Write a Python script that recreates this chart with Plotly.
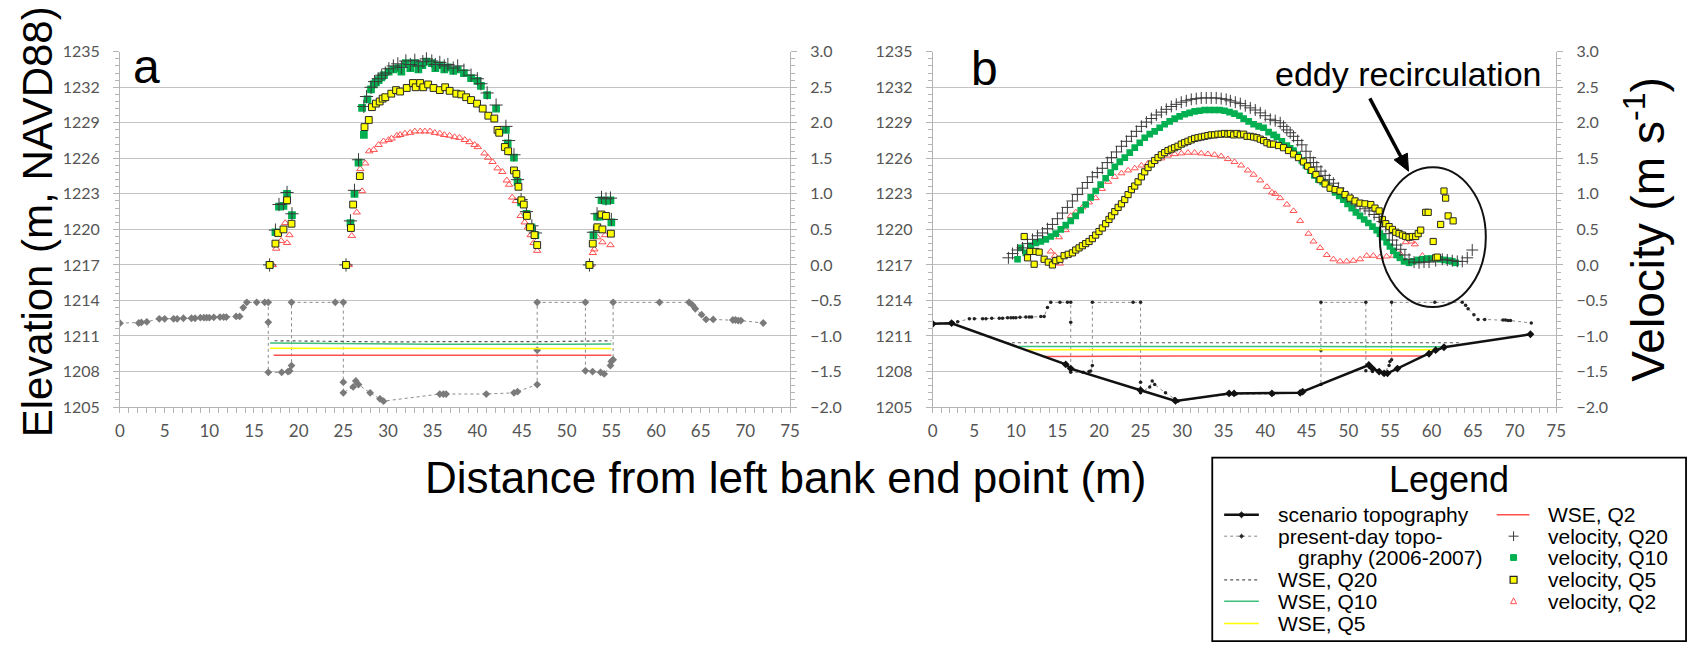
import math
import plotly.graph_objects as go

# ---------------------------------------------------------------------------
# Cross-section data
# ---------------------------------------------------------------------------
# Present-day topography (2006-2007 survey), distance (m) / elevation (m)
pd_x = [0, 2.1, 2.4, 3.0, 4.4, 5.0, 6.0, 6.4, 7.1, 8.0, 8.4, 9.0, 9.4, 9.7, 10.0,
        10.5, 11.2, 11.6, 11.9, 13.0, 13.4, 13.8, 14.2, 15.3, 16.2, 16.6, 16.6,
        16.6, 18.1, 18.8, 19.0, 19.2, 19.2, 24.1, 25.0, 25.0, 25.0, 26.1, 26.4,
        26.7, 28.0, 29.1, 29.5, 35.8, 36.2, 36.5, 41.0, 44.1, 44.5, 46.7, 46.7,
        46.7, 52.1, 52.1, 52.9, 53.8, 54.2, 54.9, 55.0, 55.2, 55.2, 60.4, 63.7,
        64.1, 64.4, 65.1, 65.6, 66.4, 68.6, 68.9, 69.2, 69.5, 72.0]
pd_z = [1212.08, 1212.1, 1212.15, 1212.2, 1212.45, 1212.45, 1212.45, 1212.45,
        1212.5, 1212.5, 1212.5, 1212.55, 1212.55, 1212.55, 1212.55, 1212.58,
        1212.6, 1212.6, 1212.6, 1212.65, 1212.65, 1213.4, 1213.84, 1213.84,
        1213.84, 1213.84, 1212.16, 1207.93, 1207.93, 1208.0, 1208.05, 1208.5,
        1213.84, 1213.84, 1213.84, 1207.1, 1206.2, 1206.7, 1207.2, 1206.9,
        1206.2, 1205.7, 1205.5, 1206.1, 1206.1, 1206.1, 1206.1, 1206.2, 1206.3,
        1206.9, 1209.8, 1213.84, 1213.84, 1208.06, 1208.0, 1207.93, 1207.8,
        1208.5, 1208.85, 1209.0, 1213.84, 1213.84, 1213.84, 1213.6, 1213.3,
        1212.8, 1212.4, 1212.4, 1212.35, 1212.35, 1212.3, 1212.3, 1212.1]

# Scenario topography (panel b)
sc_x = [0, 2.27, 16.0, 16.6, 25.0, 29.2, 35.65, 36.25, 40.8, 44.2, 44.5, 52.46,
        52.9, 53.7, 54.3, 54.7, 55.9, 59.7, 60.5, 61.5, 71.9]
sc_z = [1212.03, 1212.08, 1208.6, 1208.25, 1206.42, 1205.52, 1206.15, 1206.15,
        1206.15, 1206.2, 1206.3, 1208.55, 1208.25, 1208.0, 1207.85, 1207.85,
        1208.25, 1209.5, 1209.8, 1210.05, 1211.15]

# Water surface elevations, panel a
wse_a_q20_x = [17.3, 20, 25, 30, 35, 40, 45, 50, 55.0]
wse_a_q20_z = [1210.6, 1210.58, 1210.52, 1210.5, 1210.52, 1210.55, 1210.52, 1210.54, 1210.6]
wse_a_q10_x = [16.8, 20, 25, 30, 35, 40, 45, 50, 55.0]
wse_a_q10_z = [1210.4, 1210.38, 1210.32, 1210.3, 1210.3, 1210.3, 1210.28, 1210.3, 1210.32]
wse_a_q5_x = [16.8, 25, 35, 45, 55.0]
wse_a_q5_z = [1209.97, 1209.95, 1209.94, 1209.94, 1209.95]
wse_a_q2_x = [17.2, 25, 35, 45, 55.0]
wse_a_q2_z = [1209.37, 1209.35, 1209.37, 1209.37, 1209.37]

# Water surface elevations, panel b
wse_b_q20_x = [8.8, 20, 23.2, 30, 40, 50, 60, 63.5]
wse_b_q20_z = [1210.43, 1210.43, 1210.38, 1210.4, 1210.42, 1210.42, 1210.42, 1210.43]
wse_b_q10_x = [10.1, 20, 30, 40, 50, 60, 62.0]
wse_b_q10_z = [1210.11, 1210.11, 1210.1, 1210.1, 1210.1, 1210.12, 1210.1]
wse_b_q5_x = [11.1, 20, 30, 40, 50, 60.7]
wse_b_q5_z = [1209.84, 1209.84, 1209.84, 1209.84, 1209.84, 1209.84]
wse_b_q2_x = [13.2, 15.5, 16.0, 30, 45, 59.2]
wse_b_q2_z = [1209.26, 1209.27, 1209.32, 1209.32, 1209.32, 1209.32]

# Depth-averaged velocities, panel a (m/s)
va_q20_x = [16.75, 17.4, 17.8, 18.3, 18.7, 19.25, 25.3, 25.8, 26.25, 26.7, 27.3, 27.6,
            28.1, 28.5, 28.9, 29.3, 29.7, 30.1, 30.6, 31.1, 31.5, 32.0, 32.5, 33.0,
            33.4, 33.9, 34.3, 34.9, 35.3, 35.8, 36.3, 36.7, 37.3, 37.8, 38.5, 39.3,
            40.0, 40.4, 41.1, 42.1, 43.2, 43.5, 44.1, 44.5, 44.9, 45.5, 46.1, 46.5,
            52.55, 53.0, 53.4, 53.9, 54.4, 54.9, 55.0]
va_q20_v = [0.0, 0.49, 0.85, 0.86, 1.02, 0.72, 0.0, 0.62, 1.05, 1.48, 2.23, 2.37, 2.5,
            2.58, 2.62, 2.67, 2.7, 2.76, 2.8, 2.83, 2.78, 2.87, 2.82, 2.88, 2.8, 2.86,
            2.9, 2.87, 2.82, 2.85, 2.8, 2.82, 2.77, 2.8, 2.74, 2.67, 2.62, 2.55, 2.42,
            2.25, 1.95, 1.75, 1.55, 1.2, 0.92, 0.75, 0.55, 0.45, 0.0, 0.46, 0.72, 0.95,
            0.93, 0.94, 0.64]
va_q10_x = [16.75, 17.4, 17.8, 18.3, 18.7, 19.25, 25.3, 25.8, 26.25, 26.7, 27.3, 27.1,
            27.7, 28.1, 28.4, 28.65, 28.95, 29.25, 29.55, 30.07, 30.6, 31.15, 31.5,
            32.0, 32.5, 32.95, 33.4, 33.85, 34.3, 34.9, 35.3, 35.8, 36.3, 36.7, 37.3,
            37.8, 38.5, 39.3, 40.0, 40.4, 41.1, 42.1, 43.2, 43.4, 44.1, 44.5, 44.9,
            45.5, 46.07, 46.5, 52.55, 53.0, 53.4, 53.7, 53.9, 54.4, 54.9, 55.0]
va_q10_v = [0.0, 0.46, 0.82, 0.83, 1.0, 0.70, 0.0, 0.59, 1.0, 1.44, 1.83, 2.21, 2.33,
            2.47, 2.54, 2.57, 2.6, 2.64, 2.67, 2.72, 2.75, 2.77, 2.72, 2.84, 2.77,
            2.84, 2.75, 2.81, 2.86, 2.84, 2.77, 2.81, 2.75, 2.78, 2.73, 2.75, 2.7,
            2.63, 2.59, 2.52, 2.39, 2.2, 1.9, 1.71, 1.51, 1.17, 0.88, 0.72, 0.53,
            0.42, 0.0, 0.42, 0.68, 0.68, 0.91, 0.9, 0.91, 0.6]
va_q5_x = [16.75, 17.4, 17.7, 18.3, 18.7, 19.2, 25.3, 25.85, 26.1, 26.85, 27.37,
           27.85, 28.2, 28.65, 29.07, 29.4, 29.7, 30.37, 30.9, 31.36, 32.1, 32.8,
           33.1, 33.6, 33.95, 34.5, 35.1, 35.8, 36.4, 36.9, 37.65, 38.2, 38.75, 39.3,
           39.97, 40.6, 41.23, 41.9, 42.26, 42.45, 43.08, 43.45, 44.1, 44.37, 44.6,
           44.93, 45.2, 45.55, 45.9, 46.4, 46.7, 52.55, 52.92, 53.43, 53.9, 54.0,
           54.4, 54.95]
va_q5_v = [0.0, 0.30, 0.45, 0.5, 0.91, 0.58, 0.0, 0.52, 0.85, 1.25, 1.94, 2.04, 2.22,
           2.27, 2.30, 2.34, 2.36, 2.41, 2.46, 2.44, 2.49, 2.56, 2.5, 2.56, 2.5, 2.54,
           2.49, 2.46, 2.5, 2.45, 2.41, 2.4, 2.36, 2.32, 2.27, 2.2, 2.1, 2.06, 1.9,
           1.86, 1.66, 1.6, 1.33, 1.28, 1.1, 0.91, 0.85, 0.69, 0.53, 0.42, 0.28, 0.0,
           0.3, 0.53, 0.71, 0.5, 0.69, 0.44]
va_q2_x = [17.1, 17.49, 18.04, 18.49, 18.7, 18.97, 25.6, 25.95, 26.5, 27.1, 26.9,
           27.45, 27.9, 28.4, 28.95, 29.5, 30.07, 30.4, 31.0, 31.36, 31.9, 32.47,
           33.0, 33.6, 34.13, 34.7, 35.24, 35.8, 36.3, 36.9, 37.45, 38.0, 38.6, 39.13,
           39.7, 40.05, 40.8, 41.2, 41.7, 42.26, 42.8, 43.3, 43.55, 43.9, 44.3, 44.85,
           45.3, 45.67, 45.97, 46.3, 46.7, 52.7, 52.92, 53.1, 53.43, 54.0, 54.3, 54.9]
va_q2_v = [0.0, 0.23, 0.34, 0.59, 0.31, 0.42, 0.0, 0.41, 0.74, 1.04, 1.35, 1.43, 1.6,
           1.62, 1.69, 1.74, 1.76, 1.78, 1.82, 1.83, 1.85, 1.86, 1.88, 1.88, 1.88,
           1.88, 1.86, 1.85, 1.83, 1.82, 1.8, 1.79, 1.76, 1.73, 1.69, 1.66, 1.57,
           1.51, 1.45, 1.36, 1.31, 1.19, 1.13, 0.95, 0.9, 0.69, 0.6, 0.53, 0.42, 0.31,
           0.2, 0.0, 0.17, 0.22, 0.39, 0.32, 0.42, 0.28]

# Depth-averaged velocities, panel b (m/s)
vb_q20_x = [9.1, 9.6, 10.2, 10.8, 11.4, 12.0, 12.6, 13.2, 13.8, 14.4, 15.0, 15.6,
            16.2, 16.8, 17.4, 18.0, 18.6, 19.2, 19.8, 20.4, 21.0, 21.5, 22.1, 22.7,
            23.3, 23.9, 24.5, 25.1, 25.7, 26.3, 26.9, 27.5, 28.1, 28.7, 29.3, 29.9,
            30.5, 31.1, 31.7, 32.3, 32.9, 33.5, 34.1, 34.7, 35.3, 35.8, 36.4, 37.0,
            37.6, 38.2, 38.8, 39.4, 40.0, 40.6, 41.2, 41.8, 42.2, 42.6, 43.0, 43.4,
            43.9, 44.4, 44.9, 45.4, 45.8, 46.2, 46.7, 47.2, 47.7, 48.2, 48.8, 49.4,
            49.9, 50.4, 50.9, 51.4, 52.0, 52.5, 53.1, 53.7, 54.1, 54.5, 54.9, 55.3,
            55.8, 56.3, 56.8, 57.3, 57.9, 58.5, 59.1, 59.7, 60.5, 61.3, 61.9, 62.5,
            63.1, 63.7, 64.3, 64.9]
vb_q20_v = [0.10, 0.16, 0.21, 0.24, 0.30, 0.36, 0.41, 0.45, 0.51, 0.57, 0.65, 0.73,
            0.81, 0.90, 0.99, 1.08, 1.16, 1.24, 1.30, 1.36, 1.44, 1.51, 1.59, 1.67,
            1.74, 1.81, 1.88, 1.95, 2.01, 2.06, 2.11, 2.15, 2.19, 2.23, 2.26, 2.29,
            2.31, 2.33, 2.34, 2.35, 2.35, 2.35, 2.35, 2.34, 2.33, 2.31, 2.29, 2.27,
            2.24, 2.21, 2.18, 2.14, 2.10, 2.05, 2.03, 2.0, 1.95, 1.9, 1.86, 1.81,
            1.75, 1.69, 1.60, 1.51, 1.44, 1.38, 1.32, 1.26, 1.20, 1.15, 1.08, 1.01,
            0.96, 0.92, 0.87, 0.83, 0.79, 0.76, 0.71, 0.67, 0.61, 0.54, 0.44, 0.35,
            0.28, 0.22, 0.14, 0.08, 0.04, 0.03, 0.04, 0.04, 0.06, 0.08, 0.07, 0.06,
            0.05, 0.05, 0.10, 0.21]
vb_q10_x = [10.2, 10.6, 11.2, 11.8, 12.4, 13.0, 13.6, 14.2, 14.8, 15.4, 16.0, 16.6,
            17.2, 17.8, 18.4, 19.0, 19.6, 20.2, 20.8, 21.4, 21.9, 22.5, 23.1, 23.7,
            24.3, 24.9, 25.5, 26.1, 26.7, 27.3, 27.9, 28.5, 29.1, 29.7, 30.3, 30.9,
            31.5, 32.1, 32.7, 33.3, 33.9, 34.5, 35.1, 35.7, 36.3, 36.9, 37.4, 38.0,
            38.6, 39.2, 39.8, 40.4, 41.0, 41.4, 42.0, 42.6, 43.0, 43.4, 43.9, 44.4,
            44.9, 45.4, 45.9, 46.4, 46.9, 47.4, 47.9, 48.4, 48.9, 49.4, 49.9, 50.4,
            50.9, 51.4, 51.9, 52.4, 52.9, 53.4, 53.8, 54.2, 54.6, 55.0, 55.4, 55.8,
            56.2, 56.7, 57.3, 57.8, 58.4, 58.9, 59.5, 60.0, 60.5, 61.0, 61.6, 62.1,
            62.5, 62.9]
vb_q10_v = [0.08, 0.24, 0.17, 0.27, 0.31, 0.33, 0.36, 0.40, 0.44, 0.50, 0.56, 0.62,
            0.69, 0.77, 0.85, 0.95, 1.04, 1.13, 1.22, 1.30, 1.38, 1.45, 1.51, 1.58,
            1.65, 1.72, 1.79, 1.84, 1.88, 1.93, 1.98, 2.02, 2.06, 2.09, 2.12, 2.14,
            2.16, 2.17, 2.18, 2.18, 2.18, 2.18, 2.17, 2.15, 2.13, 2.10, 2.06, 2.02,
            1.98, 1.95, 1.93, 1.87, 1.83, 1.80, 1.74, 1.68, 1.64, 1.61, 1.55, 1.47,
            1.40, 1.33, 1.26, 1.20, 1.17, 1.14, 1.08, 1.02, 0.97, 0.92, 0.86, 0.80,
            0.74, 0.69, 0.64, 0.59, 0.54, 0.49, 0.44, 0.39, 0.32, 0.26, 0.20, 0.14,
            0.10, 0.05, 0.03, 0.05, 0.07, 0.08, 0.09, 0.09, 0.10, 0.08, 0.07, 0.06,
            0.05, 0.03]
vb_q5_x = [11.0, 11.4, 11.7, 12.2, 12.4, 12.8, 13.4, 13.9, 14.4, 14.8, 15.3, 15.8,
           16.3, 16.8, 17.2, 17.6, 18.0, 18.4, 18.8, 19.2, 19.6, 20.0, 20.4, 20.8,
           21.2, 21.5, 21.9, 22.3, 22.7, 23.1, 23.5, 23.9, 24.3, 24.7, 25.1, 25.5,
           25.9, 26.3, 26.7, 27.1, 27.5, 27.9, 28.3, 28.7, 29.1, 29.5, 29.9, 30.3,
           30.7, 31.1, 31.5, 31.9, 32.3, 32.7, 33.1, 33.5, 33.9, 34.3, 34.7, 35.1,
           35.5, 35.8, 36.2, 36.6, 37.0, 37.4, 37.8, 38.2, 38.6, 39.0, 39.4, 39.8,
           40.2, 40.6, 41.0, 41.6, 42.2, 42.8, 43.4, 44.0, 44.6, 45.1, 45.6, 46.1,
           46.6, 47.2, 47.8, 48.4, 49.0, 49.6, 50.2, 50.8, 51.4, 52.0, 52.7, 53.2,
           53.7, 54.1, 54.5, 54.9, 55.3, 55.7, 56.1, 56.5, 56.9, 57.3, 57.7, 58.1,
           58.4, 58.7, 59.3, 59.6, 60.2, 60.5, 60.7, 61.1, 61.5, 61.7, 62.0, 62.6]
vb_q5_v = [0.40, 0.10, 0.19, 0.01, 0.19, 0.18, 0.08, 0.04, 0.0, 0.06, 0.08, 0.13,
           0.15, 0.17, 0.21, 0.24, 0.27, 0.30, 0.33, 0.37, 0.42, 0.47, 0.52, 0.58,
           0.64, 0.69, 0.75, 0.81, 0.86, 0.92, 0.99, 1.06, 1.11, 1.17, 1.24, 1.31,
           1.37, 1.42, 1.47, 1.51, 1.55, 1.58, 1.61, 1.63, 1.65, 1.67, 1.70, 1.72,
           1.74, 1.76, 1.78, 1.79, 1.80, 1.81, 1.82, 1.83, 1.83, 1.84, 1.84, 1.85,
           1.84, 1.85, 1.83, 1.85, 1.83, 1.84, 1.81, 1.81, 1.80, 1.79, 1.77, 1.75,
           1.72, 1.70, 1.70, 1.68, 1.65, 1.61, 1.56, 1.51, 1.45, 1.39, 1.33, 1.27,
           1.20, 1.14, 1.08, 1.06, 1.04, 0.99, 0.94, 0.90, 0.87, 0.86, 0.85, 0.80,
           0.76, 0.64, 0.58, 0.54, 0.50, 0.46, 0.44, 0.42, 0.40, 0.39, 0.40, 0.40,
           0.44, 0.49, 0.74, 0.74, 0.33, 0.10, 0.11, 0.57, 1.04, 0.94, 0.69, 0.62]
vb_q2_x = [13.4, 14.2, 14.7, 15.3, 15.2, 16.0, 16.6, 17.2, 18.0, 18.8, 19.6, 20.35,
           21.1, 21.9, 22.7, 23.5, 24.3, 25.1, 25.9, 26.7, 27.5, 28.3, 29.1, 29.9,
           30.7, 31.5, 32.3, 33.1, 33.9, 34.7, 35.5, 36.3, 37.1, 37.9, 38.6, 39.4,
           40.2, 40.8, 41.2, 41.8, 42.6, 43.4, 44.2, 45.2, 45.8, 46.6, 47.4, 48.2,
           49.0, 49.8, 50.6, 51.4, 52.2, 53.0, 53.8, 54.6, 55.4, 56.2, 56.9, 57.6,
           58.0, 58.9]
vb_q2_v = [0.08, 0.19, 0.13, 0.02, 0.39, 0.49, 0.69, 0.74, 0.81, 0.88, 0.94, 1.07,
           1.17, 1.24, 1.29, 1.33, 1.36, 1.40, 1.43, 1.46, 1.50, 1.54, 1.56, 1.57,
           1.58, 1.58, 1.57, 1.56, 1.55, 1.53, 1.49, 1.45, 1.40, 1.33, 1.27, 1.19,
           1.10, 1.02, 1.0, 0.94, 0.85, 0.76, 0.62, 0.44, 0.33, 0.24, 0.14, 0.08,
           0.05, 0.05, 0.06, 0.08, 0.13, 0.13, 0.11, 0.12, 0.13, 0.16, 0.32, 0.33,
           0.29, 0.13]

x_ticks = list(range(0, 80, 5))
elev_ticks = list(range(1205, 1236, 3))
vel_ticks = [-2.0, -1.5, -1.0, -0.5, 0.0, 0.5, 1.0, 1.5, 2.0, 2.5, 3.0]

# ---------------------------------------------------------------------------
# Styling
# ---------------------------------------------------------------------------
W, H = 1701, 651
SANS = "Liberation Sans, Arial, sans-serif"
TICKFONT = "Lato, Carlito, sans-serif"
GREEN = "#00b050"
YELLOW = "#ffff00"
RED = "#ff5050"
GRID = "#c3c3c3"
AXIS = "#b4b4b4"


def fx(p):
    return p / W


def fy(p):
    return 1 - p / H


fig = go.Figure()


def topo_present(xa, ya, mcolor, msize, mshape):
    fig.add_trace(go.Scatter(
        x=pd_x, y=pd_z, xaxis=xa, yaxis=ya, mode="lines+markers",
        line=dict(color="#8c8c8c", width=1, dash="dot"),
        marker=dict(symbol=mshape, size=msize, color=mcolor),
        name="present-day topography (2006-2007)", hoverinfo="skip"))


def wse(xs, zs, xa, ya, color, width, dash="solid", name=""):
    fig.add_trace(go.Scatter(
        x=xs, y=zs, xaxis=xa, yaxis=ya, mode="lines",
        line=dict(color=color, width=width, dash=dash), name=name))


def velocity(xs, vs, xa, ya, kind, scale=1.0):
    if kind == "q20":
        m = dict(symbol="cross-thin", size=9 * scale, line=dict(color="#3a3a3a", width=1))
        name = "velocity, Q20"
    elif kind == "q10":
        m = dict(symbol="square", size=7 * scale, color=GREEN, line=dict(width=0))
        name = "velocity, Q10"
    elif kind == "q5":
        m = dict(symbol="square", size=6.5 * scale, color=YELLOW,
                 line=dict(color="#262626", width=1))
        name = "velocity, Q5"
    else:
        m = dict(symbol="triangle-up-open", size=6.5 * scale, color=RED,
                 line=dict(color=RED, width=1))
        name = "velocity, Q2"
    fig.add_trace(go.Scatter(x=xs, y=vs, xaxis=xa, yaxis=ya, mode="markers",
                             marker=m, name=name))


# Panel a: present-day channel
topo_present("x", "y", "#7a7a7a", 6, "diamond")
wse(wse_a_q2_x, wse_a_q2_z, "x", "y", RED, 1.5, name="WSE, Q2")
wse(wse_a_q5_x, wse_a_q5_z, "x", "y", YELLOW, 1.5, name="WSE, Q5")
wse(wse_a_q10_x, wse_a_q10_z, "x", "y", "#3cc07a", 1.5, name="WSE, Q10")
wse(wse_a_q20_x, wse_a_q20_z, "x", "y", "#555555", 1.2, "dot", name="WSE, Q20")
velocity(va_q2_x, va_q2_v, "x", "y2", "q2")
velocity(va_q10_x, va_q10_v, "x", "y2", "q10", 1.1)
velocity(va_q20_x, va_q20_v, "x", "y2", "q20", 1.05)
velocity(va_q5_x, va_q5_v, "x", "y2", "q5", 1.05)

# Panel b: scenario channel
topo_present("x2", "y3", "#222222", 3.5, "circle")
wse(wse_b_q2_x, wse_b_q2_z, "x2", "y3", RED, 1.5, name="WSE, Q2")
wse(wse_b_q5_x, wse_b_q5_z, "x2", "y3", YELLOW, 1.5, name="WSE, Q5")
wse(wse_b_q10_x, wse_b_q10_z, "x2", "y3", "#3cc07a", 1.5, name="WSE, Q10")
wse(wse_b_q20_x, wse_b_q20_z, "x2", "y3", "#555555", 1.2, "dot", name="WSE, Q20")
fig.add_trace(go.Scatter(
    x=sc_x, y=sc_z, xaxis="x2", yaxis="y3", mode="lines+markers",
    line=dict(color="#111111", width=2.5),
    marker=dict(symbol="diamond", size=6, color="#111111"),
    name="scenario topography"))
velocity(vb_q2_x, vb_q2_v, "x2", "y4", "q2", 0.95)
velocity(vb_q10_x, vb_q10_v, "x2", "y4", "q10", 0.95)
velocity(vb_q20_x, vb_q20_v, "x2", "y4", "q20", 0.95)
velocity(vb_q5_x, vb_q5_v, "x2", "y4", "q5", 0.95)

# ---------------------------------------------------------------------------
# Axes
# ---------------------------------------------------------------------------
Y_DOM = [fy(409), fy(43)]
XA_DOM = [fx(116), fx(792)]
XB_DOM = [fx(936), fx(1565)]

xcommon = dict(range=[0, 75], tickvals=x_ticks, showgrid=False, zeroline=False,
               showline=True, linecolor=AXIS, linewidth=1,
               ticks="outside", ticklen=5, tickcolor=AXIS,
               minor=dict(dtick=1, tick0=0, ticks="outside", ticklen=5, tickcolor=AXIS),
               tickfont=dict(family=TICKFONT, size=17, color="#555555"),
               ticklabelstandoff=4)
ycommon = dict(range=[1205, 1235], tickvals=elev_ticks, showgrid=True,
               gridcolor=GRID, gridwidth=1, zeroline=False, showline=True,
               linecolor=AXIS, linewidth=1, ticks="outside", ticklen=6,
               tickcolor=AXIS,
               minor=dict(dtick=0.6, tick0=1205, ticks="outside", ticklen=4,
                          tickcolor=AXIS, showgrid=False),
               tickfont=dict(family=TICKFONT, size=16, color="#555555"),
               ticklabelstandoff=10)
vcommon = dict(range=[-2, 3], tickvals=vel_ticks, tickformat=".1f", showgrid=False,
               zeroline=False, showline=True, linecolor=AXIS, linewidth=1,
               ticks="outside", ticklen=6, tickcolor=AXIS, side="right",
               minor=dict(dtick=0.1, tick0=0, ticks="outside", ticklen=4,
                          tickcolor=AXIS),
               tickfont=dict(family=TICKFONT, size=16, color="#555555"),
               ticklabelstandoff=10)

fig.update_layout(
    width=W, height=H, margin=dict(l=0, r=0, t=0, b=0),
    paper_bgcolor="white", plot_bgcolor="white", showlegend=False,
    xaxis=dict(domain=XA_DOM, anchor="y", **xcommon),
    yaxis=dict(domain=Y_DOM, anchor="x", **ycommon),
    yaxis2=dict(overlaying="y", anchor="x", **vcommon),
    xaxis2=dict(domain=XB_DOM, anchor="y3", **xcommon),
    yaxis3=dict(domain=Y_DOM, anchor="x2", **ycommon),
    yaxis4=dict(overlaying="y3", anchor="x2", **vcommon),
)

# ---------------------------------------------------------------------------
# Titles, panel letters and the eddy call-out
# ---------------------------------------------------------------------------
ann = []
shapes = []


def text(x, y, s, size, anchor="center", angle=0, color="black", family=SANS):
    ann.append(dict(x=fx(x), y=fy(y), xref="paper", yref="paper", text=s,
                    showarrow=False, xanchor=anchor, yanchor="middle",
                    textangle=angle, font=dict(family=family, size=size, color=color)))


def sample_line(x0, x1, y0, color, width, dash="solid", y1=None):
    y1 = y0 if y1 is None else y1
    shapes.append(dict(type="line", xref="paper", yref="paper", x0=fx(x0), x1=fx(x1),
                       y0=fy(y0), y1=fy(y1), line=dict(color=color, width=width, dash=dash)))


def sample_path(points, fill, line_color, lw=1):
    d = "M " + " L ".join(f"{fx(px):.5f},{fy(py):.5f}" for px, py in points) + " Z"
    shapes.append(dict(type="path", xref="paper", yref="paper", path=d,
                       fillcolor=fill, line=dict(color=line_color, width=lw)))


text(33, 218, "Elevation (m, NAVD88)", 42, angle=-90)
text(1655, 226, "Velocity (m s<sup>-1</sup>)", 46, angle=-90)
text(787, 482, "Distance from left bank end point (m)", 44)
text(127, 58, "a", 48, anchor="left")
text(973, 60, "b", 48, anchor="left")
text(1415, 66, "eddy recirculation", 34)

# arrow pointing into the recirculation zone
tip, tail = (1416, 166), (1377, 91)
dx, dy = tip[0] - tail[0], tip[1] - tail[1]
L = math.hypot(dx, dy)
ux, uy = dx / L, dy / L
head_len, head_half = 17, 7.5
bx, by = tip[0] - head_len * ux, tip[1] - head_len * uy
sample_line(tail[0], bx + 2 * ux, tail[1], "black", 3.5, y1=by + 2 * uy)
sample_path([tip, (bx - head_half * uy, by + head_half * ux),
             (bx + head_half * uy, by - head_half * ux)], "black", "black")

# recirculation ellipse
shapes.append(dict(type="circle", xref="paper", yref="paper", x0=fx(1387), x1=fx(1494),
                   y0=fy(306), y1=fy(162), line=dict(color="#111111", width=2)))

# ---------------------------------------------------------------------------
# Legend box
# ---------------------------------------------------------------------------
shapes.append(dict(type="rect", xref="paper", yref="paper", x0=fx(1218), x1=fx(1696),
                   y0=fy(650), y1=fy(461), line=dict(color="black", width=1.8)))
text(1457, 484, "Legend", 36)

rows = [520, 542, 564, 587, 609, 632]
LX0, LX1, LT = 1230, 1265, 1282
RX0, RX1, RT, RM = 1505, 1538, 1555, 1522
LEG_FONT = 21

# left column
sample_line(LX0, LX1, rows[0], "#111111", 2.5)
cx = (LX0 + LX1) / 2
sample_path([(cx - 3, rows[0]), (cx, rows[0] - 3), (cx + 3, rows[0]),
             (cx, rows[0] + 3)], "#111111", "#111111")
text(LT, rows[0], "scenario topography", LEG_FONT, anchor="left")
sample_line(LX0, LX1, rows[1], "#888888", 1, "dot")
sample_path([(cx - 2, rows[1]), (cx, rows[1] - 2), (cx + 2, rows[1]),
             (cx, rows[1] + 2)], "#222222", "#222222")
text(LT, rows[1], "present-day topo-", LEG_FONT, anchor="left")
text(LT + 20, rows[2], "graphy (2006-2007)", LEG_FONT, anchor="left")
sample_line(LX0, LX1, rows[3], "#555555", 1.2, "dot")
text(LT, rows[3], "WSE, Q20", LEG_FONT, anchor="left")
sample_line(LX0, LX1, rows[4], "#3cc07a", 1.5)
text(LT, rows[4], "WSE, Q10", LEG_FONT, anchor="left")
sample_line(LX0, LX1, rows[5], YELLOW, 1.5)
text(LT, rows[5], "WSE, Q5", LEG_FONT, anchor="left")

# right column
sample_line(RX0, RX1, rows[0], RED, 1.5)
text(RT, rows[0], "WSE, Q2", LEG_FONT, anchor="left")
sample_line(RM - 5, RM + 5, rows[1], "#3a3a3a", 1)
sample_line(RM, RM, rows[1] - 5, "#3a3a3a", 1, y1=rows[1] + 5)
text(RT, rows[1], "velocity, Q20", LEG_FONT, anchor="left")
sample_path([(RM - 3, rows[2] - 3), (RM + 3, rows[2] - 3),
             (RM + 3, rows[2] + 3), (RM - 3, rows[2] + 3)], GREEN, GREEN)
text(RT, rows[2], "velocity, Q10", LEG_FONT, anchor="left")
sample_path([(RM - 3.5, rows[3] - 3.5), (RM + 3.5, rows[3] - 3.5),
             (RM + 3.5, rows[3] + 3.5), (RM - 3.5, rows[3] + 3.5)], YELLOW, "#262626", 1.2)
text(RT, rows[3], "velocity, Q5", LEG_FONT, anchor="left")
sample_path([(RM - 3, rows[4] + 2.5), (RM + 3, rows[4] + 2.5), (RM, rows[4] - 3.5)],
            "rgba(0,0,0,0)", RED, 1)
text(RT, rows[4], "velocity, Q2", LEG_FONT, anchor="left")

fig.update_layout(annotations=ann, shapes=shapes)

fig.write_html("out.html")
